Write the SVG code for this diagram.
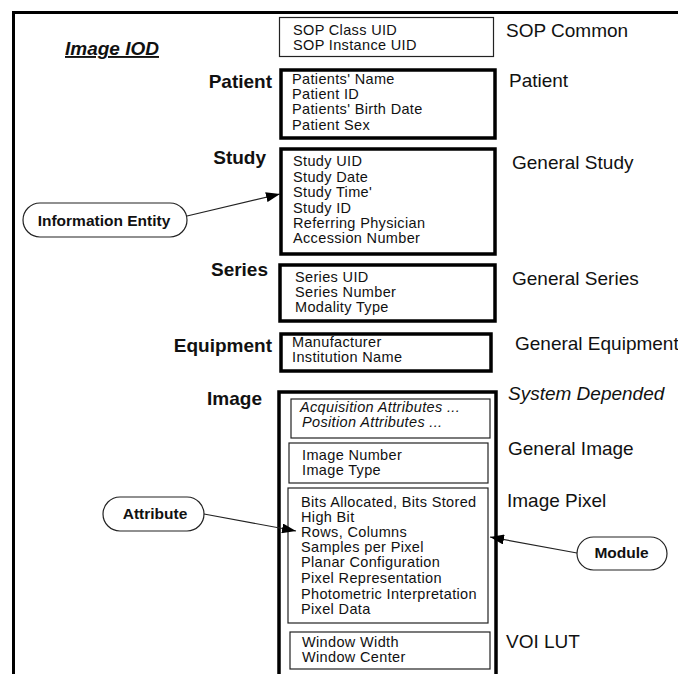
<svg xmlns="http://www.w3.org/2000/svg" width="678" height="674" viewBox="0 0 678 674">
<style>
text{font-family:"Liberation Sans",Arial,sans-serif;fill:#111}
.t{font-size:14.5px;letter-spacing:0.35px}
.m{font-size:19px}
.e{font-size:19px;font-weight:bold;text-anchor:end}
.p{font-size:15.5px;font-weight:bold;text-anchor:middle}
.thick{fill:#fff;stroke:#000;stroke-width:3.5}
.thin{fill:#fff;stroke:#222;stroke-width:1.2}
.pill{fill:#fff;stroke:#222;stroke-width:1.2}
.c{stroke:#222;stroke-width:1.2;fill:none;marker-end:url(#ah)}
</style>
<defs>
<marker id="ah" markerUnits="userSpaceOnUse" markerWidth="14" markerHeight="10" refX="14" refY="5" orient="auto">
<path d="M0,0 L14,5 L0,10 Z" fill="#000"/>
</marker>
</defs>
<rect width="678" height="674" fill="#fff"/>
<path d="M13.5,674 V12.5 H678" fill="none" stroke="#000" stroke-width="3"/>
<text x="65" y="55" style="font-size:19px;font-weight:bold;font-style:italic" text-decoration="underline">Image IOD</text>

<g id="sop-common">
<rect class="thin" x="279.5" y="17.5" width="214" height="39"/>
<text class="t" x="293" y="35">SOP Class UID</text>
<text class="t" x="293" y="49.5">SOP Instance UID</text>
<text class="m" x="506" y="37">SOP Common</text>
</g>

<g id="patient">
<text class="e" x="272" y="88">Patient</text>
<rect class="thick" x="281" y="70" width="214" height="68"/>
<text class="t" x="292" y="84">Patients' Name</text>
<text class="t" x="292" y="99">Patient ID</text>
<text class="t" x="292" y="114">Patients' Birth Date</text>
<text class="t" x="292" y="129.5">Patient Sex</text>
<text class="m" x="509" y="87">Patient</text>
</g>

<g id="study">
<text class="e" x="266" y="164">Study</text>
<rect class="thick" x="281" y="149" width="214" height="105"/>
<text class="t" x="293" y="166">Study UID</text>
<text class="t" x="293" y="181.5">Study Date</text>
<text class="t" x="293" y="196.5">Study Time'</text>
<text class="t" x="293" y="212.5">Study ID</text>
<text class="t" x="293" y="227.5">Referring Physician</text>
<text class="t" x="293" y="243">Accession Number</text>
<text class="m" x="512" y="169">General Study</text>
</g>

<g id="series">
<text class="e" x="268" y="276">Series</text>
<rect class="thick" x="280" y="265" width="215" height="56"/>
<text class="t" x="295" y="282">Series UID</text>
<text class="t" x="295" y="297">Series Number</text>
<text class="t" x="295" y="312">Modality Type</text>
<text class="m" x="512" y="285">General Series</text>
</g>

<g id="equipment">
<text class="e" x="272" y="352">Equipment</text>
<rect class="thick" x="281" y="334" width="210" height="37"/>
<text class="t" x="292" y="347">Manufacturer</text>
<text class="t" x="292" y="362">Institution Name</text>
<text class="m" x="515" y="350">General Equipment</text>
</g>

<g id="image">
<text class="e" x="262" y="405">Image</text>
<rect class="thick" x="279" y="392" width="217" height="300"/>
<text class="m" x="508" y="400" font-style="italic">System Depended</text>
</g>

<g id="system-depended">
<rect class="thin" x="291" y="399" width="199" height="39"/>
<text class="t" x="300" y="412" font-style="italic">Acquisition Attributes ...</text>
<text class="t" x="302" y="427" font-style="italic">Position Attributes ...</text>
</g>

<g id="general-image">
<rect class="thin" x="289" y="443" width="199" height="40"/>
<text class="t" x="302" y="460">Image Number</text>
<text class="t" x="302" y="475">Image Type</text>
<text class="m" x="508" y="455">General Image</text>
</g>

<g id="image-pixel">
<rect class="thin" x="288" y="488" width="200" height="135"/>
<text class="t" x="301" y="507">Bits Allocated, Bits Stored</text>
<text class="t" x="301" y="521.5">High Bit</text>
<text class="t" x="301" y="536.5">Rows, Columns</text>
<text class="t" x="301" y="552">Samples per Pixel</text>
<text class="t" x="301" y="567">Planar Configuration</text>
<text class="t" x="301" y="583">Pixel Representation</text>
<text class="t" x="301" y="599">Photometric Interpretation</text>
<text class="t" x="301" y="614">Pixel Data</text>
<text class="m" x="507" y="507">Image Pixel</text>
</g>

<g id="voi-lut">
<rect class="thin" x="290" y="632" width="200" height="37"/>
<text class="t" x="302" y="647">Window Width</text>
<text class="t" x="302" y="662">Window Center</text>
<text class="m" x="506" y="648">VOI LUT</text>
</g>

<g id="information-entity">
<rect class="pill" x="23" y="203" width="164" height="34" rx="17"/>
<text class="p" x="104" y="225.5">Information Entity</text>
</g>

<g id="attribute">
<rect class="pill" x="103" y="497" width="101" height="34" rx="17"/>
<text class="p" x="155" y="519">Attribute</text>
</g>

<g id="module">
<rect class="pill" x="577" y="537" width="90" height="33" rx="16.5"/>
<text class="p" x="621.5" y="558">Module</text>
</g>

<g id="connectors">
<line class="c" x1="187" y1="216" x2="280" y2="194"/>
<line class="c" x1="204" y1="514" x2="296" y2="531"/>
<line class="c" x1="577" y1="553" x2="490" y2="537"/>
</g>
</svg>
